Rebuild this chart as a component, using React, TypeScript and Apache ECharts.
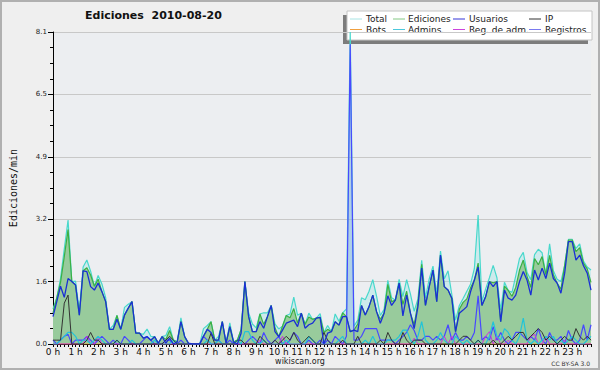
import React, { useEffect, useRef } from "react";
import * as echarts from "echarts";

const hourLabels = ["0 h","1 h","2 h","3 h","4 h","5 h","6 h","7 h","8 h","9 h","10 h","11 h","12 h","13 h","14 h","15 h","16 h","17 h","18 h","19 h","20 h","21 h","22 h","23 h"];
const minuteSlots = ["00","10","20","30","40","50"];
const yTicks = [0, 1.62, 3.24, 4.86, 6.48, 8.1];

// Each row = one hour (10-minute slots)
const total = [
  0.91,1.2,1.7,2.47,3.22,1.62,
  1.63,0.85,2.0,2.18,1.89,1.5,
  1.78,1.56,1.2,0.38,0.48,0.74,
  0.38,0.95,1.03,1.1,0.28,0.28,
  0.25,0.39,0.2,0.19,0.02,0.19,
  0.22,0.45,0.1,0.05,0.68,0.19,
  0.02,0,0,0,0.4,0.48,
  0.58,0.1,0.2,0.58,0.02,0.55,
  0.05,0.1,0.38,1.62,0.81,0.52,
  0.42,0.78,0.81,0.81,1.0,0.52,
  0.39,0.46,0.74,0.78,1.22,0.75,
  0.8,0.51,0.8,0.64,0.67,0.79,
  0.3,0.48,0.32,0.78,0.59,0.81,
  0.91,8.1,0.46,0.62,1.2,1.15,
  1.37,1.67,1.24,0.74,0.9,1.65,
  1.2,1.14,1.68,1.23,1.67,1.3,
  0.85,1.17,2.17,1.2,1.69,2.02,
  1.3,2.41,1.69,1.9,1.29,0.62,
  1.0,1.18,1.37,1.56,1.96,3.35,
  1.1,1.43,1.72,2.04,1.72,0.88,
  1.6,1.39,1.34,1.77,2.22,2.38,
  1.86,1.67,2.32,2.46,2.37,1.8,
  2.6,1.9,1.68,1.62,2.04,2.72,
  2.72,2.48,2.6,2.15,2.0,1.92,
];
const ediciones = [
  0.81,1.2,1.6,2.27,2.97,1.62,
  1.53,0.75,1.9,1.98,1.79,1.5,
  1.68,1.36,1.1,0.38,0.38,0.74,
  0.38,0.75,0.93,1.1,0.28,0.28,
  0.15,0.19,0.1,0.19,0.02,0.19,
  0.12,0.35,0.1,0.05,0.58,0.19,
  0.02,0,0,0,0.2,0.38,
  0.58,0.1,0.1,0.58,0.02,0.45,
  0.05,0.1,0.38,1.62,0.71,0.32,
  0.32,0.78,0.51,0.71,1.0,0.42,
  0.19,0.46,0.74,0.68,0.92,0.55,
  0.8,0.51,0.7,0.64,0.67,0.69,
  0.3,0.38,0.32,0.58,0.49,0.81,
  0.71,0.32,0.36,0.52,1.0,0.75,
  0.97,1.27,0.84,0.64,0.8,1.55,
  1.1,1.14,1.58,1.03,1.37,0.8,
  0.5,1.07,2.07,1.0,1.49,1.92,
  1.1,2.31,1.49,1.4,1.19,0.32,
  0.9,1.08,1.17,1.46,1.66,2.1,
  1.0,1.23,1.62,1.59,1.62,0.58,
  1.5,1.39,1.24,1.47,1.92,2.18,
  1.76,1.47,2.22,2.06,2.27,1.8,
  2.3,1.8,1.58,1.42,2.04,2.7,
  2.7,2.4,2.5,2.1,1.95,1.6,
];
const usuarios = [
  0.71,1.1,1.5,1.21,1.7,1.62,
  1.53,0.75,1.9,1.88,1.49,1.4,
  1.58,1.36,1.1,0.38,0.38,0.64,
  0.38,0.75,0.93,1.1,0.28,0.28,
  0.15,0.19,0.1,0.19,0.02,0.19,
  0.02,0.15,0,0.05,0.58,0.19,
  0.02,0,0,0,0.2,0.38,
  0.3,0.1,0.1,0.58,0.02,0.45,
  0.05,0,0.28,1.62,0.71,0.32,
  0.32,0.58,0.41,0.71,1.0,0.32,
  0.19,0.36,0.54,0.58,0.62,0.45,
  0.8,0.41,0.5,0.54,0.67,0.69,
  0,0.28,0.32,0.58,0.49,0.71,
  0.71,0.32,0.36,0.32,1.0,0.75,
  0.97,1.27,0.84,0.54,0.8,1.25,
  1.0,1.14,1.58,0.73,1.27,0.8,
  0.4,0.97,1.97,1.0,1.49,1.92,
  1.1,2.31,1.49,1.4,1.19,0.32,
  0.8,0.88,0.97,1.36,1.66,2.0,
  1.0,1.23,1.62,1.49,1.62,0.58,
  1.4,1.19,1.14,1.27,1.62,1.88,
  1.66,1.27,1.92,1.66,1.97,1.7,
  2.1,1.7,1.58,1.32,1.84,2.66,
  2.66,2.18,2.31,2.03,1.84,1.4,
];
const ip = [
  0.1,0.1,0.1,1.06,1.27,0,
  0,0,0,0.1,0.3,0.1,
  0.1,0,0,0,0,0.1,
  0,0,0,0,0,0,
  0,0,0,0,0,0,
  0.1,0.2,0.1,0,0,0,
  0,0,0,0,0,0,
  0.28,0,0,0,0,0,
  0,0.1,0.1,0,0,0,
  0,0.2,0.1,0,0,0.1,
  0,0.1,0.2,0.1,0.3,0.1,
  0,0.1,0.2,0.1,0,0,
  0.3,0.1,0,0,0,0.1,
  0,0,0,0.2,0,0,
  0,0,0,0.1,0,0.3,
  0.1,0,0,0.3,0.1,0,
  0.1,0.1,0.1,0,0,0,
  0,0,0,0,0,0,
  0.1,0.2,0.2,0.1,0,0.1,
  0,0,0,0.1,0,0,
  0.1,0.2,0.1,0.2,0.3,0.3,
  0.1,0.2,0.3,0.4,0.3,0.1,
  0.2,0.1,0,0.1,0.2,0.1,
  0.1,0.4,0.2,0.1,0.2,0.1,
];
const bots = [
  0,0,0,0,0,0, 0,0,0,0,0,0, 0,0,0,0,0,0, 0,0,0,0,0,0,
  0,0,0,0,0,0, 0,0,0,0,0,0, 0,0,0,0,0,0, 0,0,0,0,0,0,
  0,0,0,0,0,0, 0,0,0,0,0,0, 0,0,0,0,0,0, 0,0,0,0,0,0,
  0,0,0,0,0,0, 0,0,0,0,0,0, 0,0,0,0,0,0, 0,0,0,0,0,0,
  0,0,0,0,0,0, 0,0,0,0,0,0, 0,0,0,0,0,0, 0,0,0,0,0,0,
  0,0,0,0,0,0, 0,0,0,0,0,0, 0,0,0,0,0,0, 0,0,0,0,0,0,
];
const admins = [
  0,0,0.1,0.2,0.3,0.3,
  0.2,0,0.1,0.1,0,0.1,
  0.2,0.1,0,0,0,0.1,
  0,0,0,0.1,0,0,
  0,0,0,0.1,0,0,
  0,0,0.1,0,0,0,
  0,0,0,0,0,0.1,
  0,0,0.1,0,0,0,
  0,0.1,0,0.32,0.32,0.1,
  0,0,0.1,0,0,0,
  0,0,0.1,0,0,0,
  0,0,0.19,0.1,0,0,
  0,0,0,0,0.1,0.2,
  0,0,0,0,0,0.1,
  0,0.2,0,0,0,0.1,
  0.1,0.1,0.2,0.36,0.36,0.1,
  0,0.2,0.58,0.1,0,0,
  0.1,0.3,0.1,0,0,0.2,
  0.1,0,0.1,0,0,0.1,
  0,0,0.2,0.58,0.2,0.1,
  0.4,0.3,0.1,0,0.2,0.67,
  0.1,0,0.1,0,0.1,0.2,
  0.1,0.2,0,0.1,0,0.1,
  0.2,0.1,0,0,0.1,0.2,
];
const regAdm = [
  0,0,0,0,0,0,
  0,0,0,0.2,0,0,
  0.2,0,0,0,0,0,
  0,0,0,0,0,0,
  0,0,0,0,0,0,
  0,0,0,0,0,0,
  0,0,0,0,0,0,
  0,0,0,0,0,0,
  0,0,0,0,0,0,
  0,0.1,0,0,0,0,
  0,0.2,0,0,0,0,
  0,0,0,0,0,0,
  0,0,0,0,0,0,
  0,0,0,0,0,0,
  0,0,0,0,0,0,
  0,0,0,0,0,0,
  0.15,0,0,0,0,0,
  0,0,0.2,0,0.2,0,
  0,0,0,0,0,0,
  0,0.2,0.32,0,0.2,0,
  0,0.1,0,0,0,0,
  0,0.2,0.25,0,0,0.2,
  0,0,0,0,0.1,0,
  0,0,0,0,0,0,
];
const registros = [
  0.1,0,0.1,0.2,0.25,0,
  0.1,0.1,0.1,0.2,0.1,0,
  0.1,0.2,0.1,0,0.1,0,
  0,0.2,0.1,0,0,0,
  0.1,0.2,0.1,0,0,0,
  0.1,0.1,0,0,0.1,0,
  0,0,0,0,0.2,0.1,
  0,0,0.1,0,0,0.1,
  0,0,0,0,0.1,0.2,
  0.1,0,0.3,0.1,0,0.1,
  0.2,0,0,0.1,0.3,0.2,
  0,0,0.1,0,0,0.1,
  0,0.1,0,0.2,0.1,0,
  0.2,7.78,0.1,0.1,0.2,0.4,
  0.4,0.4,0.4,0.1,0.1,0.1,
  0.1,0,0.1,0.2,0.3,0.5,
  0.35,0.1,0.1,0.2,0.2,0.1,
  0.2,0.1,0.2,0.5,0.1,0.3,
  0.1,0.1,0.2,0.1,0.3,1.25,
  0.1,0.2,0.1,0.45,0.1,0.3,
  0.1,0,0.1,0.3,0.3,0.2,
  0.1,0.2,0.1,0.4,0.1,0,
  0.3,0.1,0.1,0.2,0,0.35,
  0.1,0,0.1,0.5,0.1,0.5,
];

const legendNames = ["Total","Ediciones","Usuarios","IP","Bots","Admins.","Reg. de adm.","Registros"];
const legendColors = ["#a8e4e4","#84c884","#3434d8","#303030","#f0a040","#4cc8dc","#cc44dd","#7a7af0"];
const FONT = '"DejaVu Sans", sans-serif';

export default function App() {
  const ref = useRef<HTMLDivElement>(null);
  useEffect(() => {
    if (!ref.current) return;
    const chart = echarts.init(ref.current, null, { renderer: "svg" });
    const times = hourLabels.flatMap((h, hi) => minuteSlots.map((m) => `${hi}:${m}`));
    const line = (name: string, data: number[], color: string, width: number, extra: any = {}) => ({
      name, type: "line", data, symbol: "none", showSymbol: false, silent: true,
      lineStyle: { color, width }, itemStyle: { color }, ...extra,
    });
    const colX = [350, 393, 453, 529];
    const textX = [366, 408, 469, 545];
    const rowY = [19, 29.5];
    const legendEls: any[] = [
      { type: "rect", shape: { x: 343, y: 15, width: 245, height: 29 }, style: { fill: "#7c7c7c" } },
      { type: "rect", shape: { x: 347, y: 11, width: 245, height: 29 }, style: { fill: "#ffffff", stroke: "#c4c4c4", lineWidth: 1 } },
    ];
    legendNames.forEach((n, i) => {
      const c = i % 4, r = Math.floor(i / 4);
      legendEls.push({ type: "line", shape: { x1: colX[c], y1: rowY[r], x2: colX[c] + 12, y2: rowY[r] }, style: { stroke: legendColors[i], lineWidth: 1 } });
      legendEls.push({ type: "text", x: textX[c], y: rowY[r], style: { text: n, fill: "#222", fontSize: 9, fontFamily: FONT, verticalAlign: "middle", align: "left" } });
    });
    chart.setOption({
      animation: false,
      backgroundColor: "#efefef",
      title: { text: "Ediciones  2010-08-20", left: 85, top: 10, padding: 0, textStyle: { fontSize: 11, fontWeight: "bold", fontFamily: FONT, color: "#111" } },
      grid: { left: 45, right: 9, top: 32, bottom: 26, show: true, backgroundColor: "#eceef1", borderWidth: 0 },
      xAxis: {
        type: "category", data: times, boundaryGap: false,
        axisLine: { lineStyle: { color: "#000", width: 1 } },
        axisTick: { interval: 0, length: 3, lineStyle: { color: "#000" } },
        axisLabel: { interval: (i: number) => i % 6 === 0, formatter: (_v: string, i: number) => hourLabels[Math.floor(i / 6)], fontSize: 9, fontFamily: FONT, color: "#111", margin: 3 },
        splitLine: { show: false },
      },
      yAxis: {
        type: "value", min: yTicks[0], max: yTicks[yTicks.length - 1], interval: yTicks[1],
        name: "Ediciones/min", nameLocation: "middle", nameGap: 35,
        nameTextStyle: { fontFamily: '"DejaVu Sans Mono", monospace', fontSize: 10, color: "#111" },
        axisLine: { show: true, lineStyle: { color: "#000", width: 1 } },
        axisTick: { show: true, length: 5, lineStyle: { color: "#000" } },
        minorTick: { show: true, splitNumber: 4, length: 3, lineStyle: { color: "#000" } },
        axisLabel: { formatter: (v: number) => v.toFixed(1), fontSize: 7, fontFamily: FONT, color: "#222", margin: 6 },
        splitLine: { show: true, lineStyle: { color: "#c8c8c8", width: 1 } },
      },
      series: [
        line("Total", total, "#48d8cc", 1.2, { areaStyle: { color: "rgba(150,225,225,0.35)", opacity: 1 } }),
        line("Registros (área)", registros, "rgba(0,0,0,0)", 0, { areaStyle: { color: "rgba(120,160,220,0.35)", opacity: 1 } }),
        line("Ediciones", ediciones, "#3cb043", 1.2, { areaStyle: { color: "#98cb9c", opacity: 1 } }),
        line("Bots", bots, "#f0a040", 1),
        line("Registros", registros, "#4848ff", 1.2),
        line("Reg. de adm.", regAdm, "#cc33dd", 1),
        line("Admins.", admins, "#22c4d8", 1.2),
        line("IP", ip, "#333333", 1),
        line("Usuarios", usuarios, "#1a30d4", 1.3),
      ],
      graphic: [
        { type: "rect", z: 200, shape: { x: 1, y: 1, width: 598, height: 368 }, style: { fill: "none", stroke: "#b0b0b0", lineWidth: 2 } },
        { type: "group", z: 100, children: legendEls },
        { type: "text", x: 300, y: 361, style: { text: "wikiscan.org", fill: "#222", fontSize: 8, fontFamily: FONT, align: "center", verticalAlign: "middle" } },
        { type: "text", x: 590, y: 363, style: { text: "CC BY-SA 3.0", fill: "#333", fontSize: 6, fontFamily: FONT, align: "right", verticalAlign: "middle" } },
      ],
    });
    return () => chart.dispose();
  }, []);
  return <div ref={ref} style={{ position: "absolute", left: 0, top: 0, width: 600, height: 370 }} />;
}
